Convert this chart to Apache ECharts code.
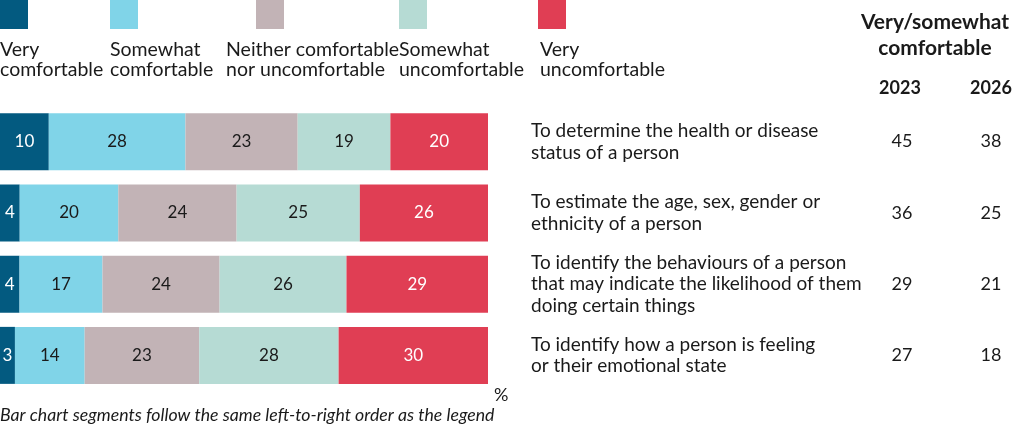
<!DOCTYPE html>
<html>
<head>
<meta charset="utf-8">
<script src="https://cdn.jsdelivr.net/npm/echarts@6/dist/echarts.min.js"></script>
<style>
  html, body { margin: 0; padding: 0; background: #fff; }
  #chart { width: 1021px; height: 426px; }
</style>
</head>
<body>
<div id="chart"></div>
<script>
// 数据
var categories = [
    'To determine the health or disease\nstatus of a person',
    'To estimate the age, sex, gender or\nethnicity of a person',
    'To identify the behaviours of a person\nthat may indicate the likelihood of them\ndoing certain things',
    'To identify how a person is feeling\nor their emotional state'
];
var seriesNames = ['Very\ncomfortable', 'Somewhat\ncomfortable', 'Neither comfortable\nnor uncomfortable', 'Somewhat\nuncomfortable', 'Very\nuncomfortable'];
var veryComfortable = [10, 4, 4, 3];
var somewhatComfortable = [28, 20, 17, 14];
var neither = [23, 24, 24, 23];
var somewhatUncomfortable = [19, 25, 26, 28];
var veryUncomfortable = [20, 26, 29, 30];
var comfortable2023 = ['45', '36', '29', '27'];
var comfortable2026 = ['38', '25', '21', '18'];
var years = ['2023', '2026'];

var colors = ['#035a80', '#80d4e8', '#c2b3b6', '#b6dbd4', '#e03e54'];
var labelColors = ['#fff', '#1a1a1a', '#1a1a1a', '#1a1a1a', '#fff'];
var font = 'Lato, "Noto Sans", sans-serif';

var allValues = [veryComfortable, somewhatComfortable, neither, somewhatUncomfortable, veryUncomfortable];

// 每行的总和, 条形铺满 100%
var totals = categories.map(function (c, i) {
    return allValues.reduce(function (s, arr) { return s + arr[i]; }, 0);
});

var series = allValues.map(function (arr, k) {
    return {
        name: seriesNames[k],
        type: 'bar',
        stack: 'all',
        barWidth: 57,
        xAxisIndex: 0,
        yAxisIndex: 0,
        itemStyle: { color: colors[k] },
        label: {
            show: true,
            position: 'inside',
            fontFamily: font,
            fontSize: 17,
            color: labelColors[k],
            formatter: function (p) { return arr[p.dataIndex]; }
        },
        data: arr.map(function (v, i) { return v / totals[i] * 100; })
    };
});

// 图例 (文字在色块下面)
var swatchX = [0, 110, 256, 399, 538];
var legendTextX = [0, 110, 226, 399, 540];
var graphics = [];
seriesNames.forEach(function (n, k) {
    graphics.push({ type: 'rect', shape: { x: swatchX[k], y: 0, width: 28, height: 29 }, style: { fill: colors[k] } });
    graphics.push({ type: 'text', x: legendTextX[k], y: 40,
        style: { text: n, font: '19.5px ' + font, fill: '#1a1a1a', lineHeight: 20, verticalAlign: 'top', align: 'left' } });
});
graphics.push({ type: 'text', x: 935, y: 22, style: { text: 'Very/somewhat', font: 'bold 21px ' + font, fill: '#1a1a1a', align: 'center', verticalAlign: 'middle' } });
graphics.push({ type: 'text', x: 935, y: 48, style: { text: 'comfortable', font: 'bold 21px ' + font, fill: '#1a1a1a', align: 'center', verticalAlign: 'middle' } });
graphics.push({ type: 'text', x: 900, y: 88, style: { text: years[0], font: 'bold 18px ' + font, fill: '#1a1a1a', align: 'center', verticalAlign: 'middle' } });
graphics.push({ type: 'text', x: 991, y: 88, style: { text: years[1], font: 'bold 18px ' + font, fill: '#1a1a1a', align: 'center', verticalAlign: 'middle' } });
graphics.push({ type: 'text', x: 494, y: 395, style: { text: '%', font: '18px ' + font, fill: '#1a1a1a', align: 'left', verticalAlign: 'middle' } });
graphics.push({ type: 'text', x: 0, y: 415, style: { text: 'Bar chart segments follow the same left-to-right order as the legend', font: 'italic 17.7px ' + font, fill: '#1a1a1a', align: 'left', verticalAlign: 'middle' } });

function hiddenX(idx) {
    return { type: 'value', gridIndex: idx, min: 0, max: 100, show: false };
}
function valueAxis(idx, data) {
    return {
        type: 'category', gridIndex: idx, inverse: true, data: data, position: 'left',
        axisLine: { show: false }, axisTick: { show: false },
        axisLabel: { margin: 0, align: 'center', fontFamily: font, fontSize: 18, color: '#1a1a1a' }
    };
}

var option = {
    animation: false,
    grid: [
        { left: 0, top: 106, width: 488, height: 285 },
        { left: 902, top: 106, width: 10, height: 285 },
        { left: 991, top: 106, width: 10, height: 285 }
    ],
    xAxis: [hiddenX(0), hiddenX(1), hiddenX(2)],
    yAxis: [
        {
            type: 'category', gridIndex: 0, inverse: true, data: categories, position: 'right',
            axisLine: { show: false }, axisTick: { show: false },
            axisLabel: { margin: 43, align: 'left', fontFamily: font, fontSize: 19, lineHeight: 21.5, color: '#1a1a1a' }
        },
        valueAxis(1, comfortable2023),
        valueAxis(2, comfortable2026)
    ],
    graphic: graphics,
    series: series
};

var chart = echarts.init(document.getElementById('chart'));
chart.setOption(option);
</script>
</body>
</html>
